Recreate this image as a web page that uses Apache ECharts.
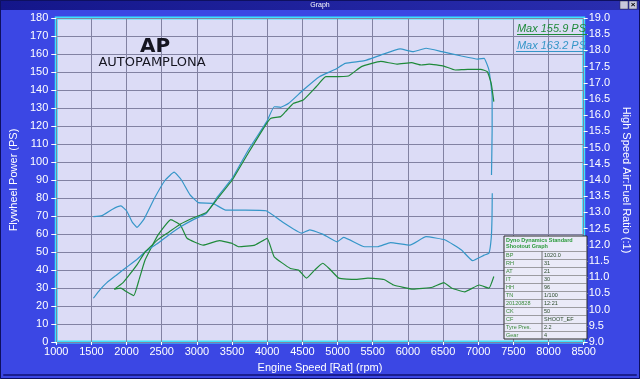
<!DOCTYPE html>
<html><head><meta charset="utf-8">
<script src="https://cdn.jsdelivr.net/npm/echarts@6/dist/echarts.min.js"></script>
<style>html,body{margin:0;padding:0;background:#3b47e4;}#c{width:640px;height:379px;}</style>
</head><body><div id="c"></div>
<script>
// ---- data ----
const bluePowerRpm = [1528,1620,1720,1850,2000,2150,2263,2450,2620,2767,2950,3135,3300,3503,3731,3993,4099,4191,4306,4512,4742,4971,5109,5384,5614,5890,6073,6258,6486,6762,6992,7084,7153,7198,7198,7189];
const bluePowerPs  = [24.3,29,33,37,41.5,46,50,55,60,64,68,71.5,81,91,106.7,122.4,130.7,130.4,132.6,140,147.4,151.5,154.8,156.3,159.4,162.8,161.3,163.2,161.3,158.9,157.2,157.6,151.1,136.3,117.8,92.8];

const greenPowerRpm = [1826,1950,2033,2150,2263,2450,2600,2767,2950,3135,3300,3503,3731,3993,4054,4191,4260,4375,4512,4696,4833,4926,5156,5339,5614,5844,6051,6189,6303,6510,6671,6854,7037,7129,7185,7222];
const greenPowerPs  = [29.3,33,37,43,50,57,61,65.5,69,72,80,90,105,121.5,124.3,125.2,128,132.6,134.4,141.8,147.4,147.4,147.8,153,155.9,154.4,155.2,153.9,154.4,153.3,151.1,151.5,151.5,150.2,143.7,133.5];

const blueAfrRpm = [1528,1650,1800,1919,2000,2080,2147,2250,2400,2550,2676,2780,2900,3021,3227,3410,3686,3985,4213,4489,4605,4788,4994,5087,5384,5569,5752,6028,6258,6531,6762,6920,7084,7153,7185,7196,7200];
const blueAfr    = [12.87,12.9,13.1,13.2,13.05,12.7,12.54,12.8,13.45,14.0,14.24,14.0,13.55,13.3,13.28,13.07,13.07,13.05,12.71,12.36,12.46,12.33,12.09,12.23,11.94,11.94,12.07,11.99,12.25,12.15,11.84,11.51,11.68,11.74,12.2,12.8,13.59];

const greenAfrRpm = [1826,1919,2000,2102,2180,2263,2446,2629,2767,2860,3090,3318,3503,3594,3824,3999,4099,4329,4444,4558,4674,4788,4880,5018,5247,5431,5660,5797,6073,6348,6510,6625,6808,7015,7153,7222];
const greenAfr    = [10.63,10.66,10.55,10.43,10.94,11.53,12.3,12.78,12.61,12.2,11.99,12.13,12.04,11.94,11.99,12.2,11.63,11.27,11.22,10.97,11.22,11.43,11.27,10.97,10.93,10.97,10.93,10.76,10.63,10.69,10.83,10.66,10.55,10.76,10.66,11.02];

const tableTitle = ['Dyno Dynamics Standard', 'Shootout Graph'];
const tableLabels = ['BP','RH','AT','IT','HH','TN','20120828','CK','CF','Tyre Pres.','Gear'];
const tableValues = ['1020.0','31','21','30','96','1/100','12:21','50','SHOOT_EF','2.2','4'];

const windowTitle = 'Graph';
const xName = 'Engine Speed [Rat] (rpm)';
const yLeftName = 'Flywheel Power (PS)';
const yRightName = 'High Speed Air:Fuel Ratio (:1)';

// ---- build ----
const zip = (a, b) => a.map((v, i) => [v, b[i]]);
const maxOf = a => Math.max.apply(null, a);
const BLUE = '#3596c8', GREEN = '#1f8a3a';
const FONT = 'Liberation Sans, Arial, sans-serif';

const chart = echarts.init(document.getElementById('c'), null, {renderer: 'canvas'});

const graphic = [];
graphic.push({type: 'rect', shape: {x: 0, y: 0, width: 640, height: 10}, style: {fill: new echarts.graphic.LinearGradient(0, 0, 1, 0, [{offset: 0, color: '#14168a'}, {offset: 1, color: '#2a2eb0'}])}, z: 1});
graphic.push({type: 'text', x: 320, y: 5, style: {text: windowTitle, fill: '#ffffff', font: '7px ' + FONT, align: 'center', verticalAlign: 'middle'}, z: 2});
graphic.push({type: 'rect', shape: {x: 620, y: 1, width: 8, height: 8}, style: {fill: '#c8c8dc', stroke: '#303050', lineWidth: 0.5}, z: 2});
graphic.push({type: 'rect', shape: {x: 629, y: 1, width: 8, height: 8}, style: {fill: '#c8c8dc', stroke: '#303050', lineWidth: 0.5}, z: 2});
graphic.push({type: 'text', x: 633, y: 5, style: {text: '×', fill: '#000', font: 'bold 8px ' + FONT, align: 'center', verticalAlign: 'middle'}, z: 3});
graphic.push({type: 'rect', shape: {x: 0.5, y: 0.5, width: 639, height: 378}, style: {fill: 'none', stroke: '#0e1060', lineWidth: 1}, z: 3});
graphic.push({type: 'rect', shape: {x: 3.5, y: 374.5, width: 633, height: 1}, style: {fill: 'none', stroke: '#1a1e90', lineWidth: 1}, z: 3});

// logo
graphic.push({type: 'text', x: 155, y: 47, style: {text: 'AP', fill: '#151520', font: 'bold 20px DejaVu Sans, sans-serif', align: 'center', verticalAlign: 'middle'}, z: 5});
graphic.push({type: 'text', x: 152, y: 63, style: {text: 'AUTOPAMPLONA', fill: '#151520', font: '13px DejaVu Sans, sans-serif', align: 'center', verticalAlign: 'middle'}, z: 5});

// max labels
const maxG = 'Max ' + maxOf(greenPowerPs).toFixed(1) + ' PS';
const maxB = 'Max ' + maxOf(bluePowerPs).toFixed(1) + ' PS';
graphic.push({type: 'text', x: 586, y: 29, style: {text: maxG, fill: GREEN, font: 'italic 11px ' + FONT, align: 'right', verticalAlign: 'middle'}, z: 5});
graphic.push({type: 'line', shape: {x1: 517, y1: 34.5, x2: 587, y2: 34.5}, style: {stroke: GREEN, lineWidth: 1}, z: 5});
graphic.push({type: 'text', x: 586, y: 46, style: {text: maxB, fill: BLUE, font: 'italic 11px ' + FONT, align: 'right', verticalAlign: 'middle'}, z: 5});
graphic.push({type: 'line', shape: {x1: 516, y1: 51.5, x2: 587, y2: 51.5}, style: {stroke: BLUE, lineWidth: 1}, z: 5});

// info table
const tx = 504, ty = 236, tw = 83, colX = 542, headH = 15, rowH = 8;
const th = headH + rowH * tableLabels.length;
graphic.push({type: 'rect', shape: {x: tx, y: ty, width: tw, height: th}, style: {fill: '#eaeaf8', stroke: '#2a2a2a', lineWidth: 1}, z: 6});
tableTitle.forEach((t, i) => graphic.push({type: 'text', x: tx + 2, y: ty + 4 + i * 6, style: {text: t, fill: '#2a9a3a', font: 'bold 5.5px ' + FONT, verticalAlign: 'middle'}, z: 7}));
graphic.push({type: 'line', shape: {x1: colX, y1: ty + headH, x2: colX, y2: ty + th}, style: {stroke: '#555', lineWidth: 0.8}, z: 7});
tableLabels.forEach((lab, i) => {
  const y = ty + headH + i * rowH;
  graphic.push({type: 'line', shape: {x1: tx, y1: y + 0.5, x2: tx + tw, y2: y + 0.5}, style: {stroke: '#666', lineWidth: 0.6}, z: 7});
  graphic.push({type: 'text', x: tx + 2, y: y + rowH / 2 + 0.5, style: {text: lab, fill: '#3a8a3a', font: '5.5px ' + FONT, verticalAlign: 'middle'}, z: 7});
  graphic.push({type: 'text', x: colX + 2, y: y + rowH / 2 + 0.5, style: {text: tableValues[i], fill: '#2a4a2a', font: '5.5px ' + FONT, verticalAlign: 'middle'}, z: 7});
});

const lineSeries = (name, rpm, vals, color, yi) => ({
  name, type: 'line', data: zip(rpm, vals), yAxisIndex: yi, showSymbol: false, smooth: 0.12,
  lineStyle: {color, width: 1.2}, itemStyle: {color}, z: 3
});

chart.setOption({
  backgroundColor: '#3b47e4',
  animation: false,
  textStyle: {fontFamily: FONT},
  grid: {left: 45, right: 50, top: 18, bottom: 37, show: true, backgroundColor: '#dcdcf6', borderColor: '#3de2fb', borderWidth: 3, containLabel: false},
  xAxis: {
    type: 'value', min: 1000, max: 8500, interval: 500,
    name: xName, nameLocation: 'middle', nameGap: 20,
    nameTextStyle: {color: '#fff', fontSize: 11, fontFamily: FONT},
    axisLine: {show: false}, axisTick: {show: true, length: 3, lineStyle: {color: '#fff'}},
    axisLabel: {color: '#fff', fontSize: 11, margin: 4, fontFamily: FONT, formatter: v => String(v)},
    splitLine: {show: true, lineStyle: {color: '#8282a2', width: 1}}
  },
  yAxis: [{
    type: 'value', min: 0, max: 180, interval: 10,
    name: yLeftName, nameLocation: 'middle', nameGap: 27,
    nameTextStyle: {color: '#fff', fontSize: 11, fontFamily: FONT},
    axisLine: {show: false}, axisTick: {show: true, length: 5, lineStyle: {color: '#fff'}},
    axisLabel: {color: '#fff', fontSize: 11, margin: 8, fontFamily: FONT},
    splitLine: {show: true, lineStyle: {color: '#8282a2', width: 1}}
  }, {
    type: 'value', min: 9, max: 19, interval: 0.5, position: 'right',
    name: yRightName, nameLocation: 'middle', nameGap: 29, nameRotate: -90,
    nameTextStyle: {color: '#fff', fontSize: 11, fontFamily: FONT},
    axisLine: {show: false}, axisTick: {show: true, length: 4, lineStyle: {color: '#fff'}},
    axisLabel: {color: '#fff', fontSize: 11, margin: 5, fontFamily: FONT, formatter: v => v.toFixed(1)},
    splitLine: {show: false}
  }],
  series: [
    lineSeries('AFR run 2', blueAfrRpm, blueAfr, BLUE, 1),
    lineSeries('AFR run 1', greenAfrRpm, greenAfr, GREEN, 1),
    lineSeries('Power run 2', bluePowerRpm, bluePowerPs, BLUE, 0),
    lineSeries('Power run 1', greenPowerRpm, greenPowerPs, GREEN, 0)
  ],
  graphic
});
</script></body></html>
